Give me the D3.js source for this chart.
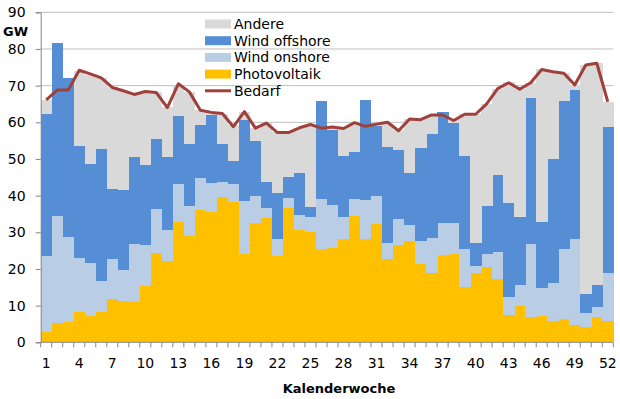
<!DOCTYPE html>
<html>
<head>
<meta charset="utf-8">
<script src="https://cdn.jsdelivr.net/npm/d3@7"></script>
<style>
  body { margin: 0; background: #fff; }
  svg { display: block; font-family: "DejaVu Sans", Verdana, sans-serif; }
</style>
</head>
<body>
<div id="chart"></div>
<script>
// Weekly values in GW
const weeks = d3.range(1, 53);
const photovoltaik = [2.9, 5.4, 5.6, 8.2, 7.3, 8.2, 11.9, 11.4, 10.9, 15.4, 24.4, 22.3, 32.9, 29.1, 36.1, 35.6, 39.6, 38.2, 24.0, 32.5, 34.0, 23.5, 36.6, 30.6, 30.2, 25.5, 25.7, 28.1, 34.5, 28.1, 32.3, 22.6, 26.5, 27.7, 21.4, 19.0, 23.8, 24.1, 15.2, 19.0, 20.5, 17.2, 7.4, 10.0, 7.0, 7.2, 5.9, 6.3, 4.7, 4.1, 7.0, 5.9];
const windOnshore = [20.6, 29.1, 23.1, 14.9, 14.4, 8.6, 10.9, 8.4, 15.8, 11.1, 12.0, 8.2, 10.3, 8.2, 8.6, 7.8, 4.2, 4.9, 14.6, 7.4, 2.6, 4.7, 2.7, 4.1, 4.1, 13.6, 11.8, 6.2, 4.6, 10.7, 7.6, 4.6, 7.1, 4.3, 6.3, 9.4, 8.7, 8.4, 10.2, 1.8, 3.5, 7.5, 5.0, 5.6, 19.8, 7.5, 10.2, 19.1, 23.6, 3.8, 2.5, 13.1];
const windOffshore = [38.8, 47.2, 43.5, 30.4, 26.8, 35.9, 19.0, 21.8, 23.9, 21.9, 19.0, 20.1, 18.5, 16.9, 14.6, 18.6, 10.2, 6.4, 22.1, 15.0, 7.1, 12.6, 5.9, 11.5, 2.6, 26.7, 20.4, 16.6, 12.9, 27.3, 19.1, 26.2, 18.9, 14.2, 25.4, 28.4, 30.2, 27.2, 25.5, 6.4, 13.2, 20.9, 25.7, 18.7, 39.9, 18.0, 33.9, 40.5, 40.5, 5.3, 6.1, 39.8];
const andere = [3.8, 0, 0, 20.5, 24.4, 19.3, 27.7, 26.9, 17.2, 19.9, 12.8, 13.6, 8.1, 14.1, 4.0, 0.8, 8.4, 9.7, 2.2, 3.6, 16.0, 16.5, 12.1, 12.3, 22.5, 0, 0.8, 7.7, 8.0, 0, 0.7, 6.7, 5.3, 14.8, 7.7, 5.3, 0, 1.3, 11.4, 35.1, 27.8, 23.6, 32.8, 34.9, 4.1, 41.8, 23.9, 7.6, 1.5, 62.5, 60.6, 6.8];
const bedarf = [66.1, 68.8, 68.8, 74.2, 73.2, 72.1, 69.5, 68.6, 67.6, 68.4, 68.1, 64.0, 70.5, 68.3, 63.3, 62.7, 62.4, 58.8, 62.9, 58.4, 59.8, 57.2, 57.2, 58.5, 59.4, 58.4, 58.7, 58.3, 59.9, 58.9, 59.5, 60.0, 57.7, 60.9, 60.7, 62.0, 62.0, 60.5, 62.2, 62.2, 65.0, 69.2, 70.8, 69.0, 70.8, 74.4, 73.8, 73.4, 70.2, 75.6, 76.1, 65.6];
const yTicks = d3.range(0, 91, 10);
const xLabels = [1, 4, 7, 10, 13, 16, 19, 22, 25, 28, 31, 34, 37, 40, 43, 46, 49, 52];

const series = [
    { key: 'pv', name: 'Photovoltaik', color: '#FFC000', values: photovoltaik },
    { key: 'on', name: 'Wind onshore', color: '#B9CDE5', values: windOnshore },
    { key: 'off', name: 'Wind offshore', color: '#558ED5', values: windOffshore },
    { key: 'and', name: 'Andere', color: '#D9D9D9', values: andere }
];
const lineColor = '#A0403C';

const width = 620, height = 399;
const plotLeft = 40.7, plotRight = 613.3, plotTop = 12.3, plotBottom = 342.3;

const rows = weeks.map((w, i) => {
    const r = { week: w };
    series.forEach(s => { r[s.key] = s.values[i]; });
    return r;
});

const svg = d3.select('#chart').append('svg')
    .attr('width', width)
    .attr('height', height);

const x = d3.scaleBand().domain(weeks).range([plotLeft, plotRight]).padding(0);
const y = d3.scaleLinear().domain([0, 90]).range([plotBottom, plotTop]);

// Gridlines
svg.append('g')
    .selectAll('line')
    .data(yTicks.filter(d => d > 0))
    .join('line')
    .attr('x1', plotLeft).attr('x2', plotRight)
    .attr('y1', d => y(d)).attr('y2', d => y(d))
    .attr('stroke', '#BFBFBF')
    .attr('stroke-width', 1);

// Stacked bars
const stacked = d3.stack().keys(series.map(s => s.key))(rows);
svg.append('g')
    .selectAll('g')
    .data(stacked)
    .join('g')
    .attr('fill', (d, i) => series[i].color)
    .selectAll('rect')
    .data(d => d)
    .join('rect')
    .attr('x', d => x(d.data.week))
    .attr('width', x.bandwidth() + 0.4)
    .attr('y', d => y(d[1]))
    .attr('height', d => Math.max(0, y(d[0]) - y(d[1])))
    .attr('shape-rendering', 'crispEdges');

// Bedarf line
const line = d3.line()
    .x((d, i) => x(weeks[i]) + x.bandwidth() / 2)
    .y(d => y(d));
svg.append('path')
    .datum(bedarf)
    .attr('d', line)
    .attr('fill', 'none')
    .attr('stroke', lineColor)
    .attr('stroke-width', 3)
    .attr('stroke-linejoin', 'round');

// Y axis
const yAxis = svg.append('g')
    .attr('transform', `translate(${plotLeft},0)`)
    .call(d3.axisLeft(y).tickValues(yTicks).tickSize(5).tickPadding(10));
yAxis.select('.domain').attr('stroke', '#868686');
yAxis.selectAll('.tick line').attr('stroke', '#868686');
yAxis.selectAll('text')
    .attr('font-size', 14)
    .attr('font-family', '"DejaVu Sans", Verdana, sans-serif')
    .attr('fill', '#000');

// X axis: ticks on band boundaries
const xAxis = svg.append('g')
    .attr('transform', `translate(0,${plotBottom})`);
xAxis.append('line')
    .attr('x1', plotLeft).attr('x2', plotRight)
    .attr('stroke', '#868686');
xAxis.selectAll('line.tk')
    .data(weeks.concat([53]))
    .join('line')
    .attr('class', 'tk')
    .attr('x1', d => d <= 52 ? x(d) : plotRight)
    .attr('x2', d => d <= 52 ? x(d) : plotRight)
    .attr('y1', 0).attr('y2', 5)
    .attr('stroke', '#868686');
xAxis.selectAll('text')
    .data(xLabels)
    .join('text')
    .attr('x', d => x(d) + x.bandwidth() / 2)
    .attr('y', 26)
    .attr('text-anchor', 'middle')
    .attr('font-size', 14)
    .attr('fill', '#000')
    .text(d => d);

// Axis titles
svg.append('text')
    .attr('x', 3).attr('y', 36)
    .attr('font-size', 13)
    .attr('font-weight', 'bold')
    .attr('fill', '#000')
    .text('GW');
svg.append('text')
    .attr('x', 339).attr('y', 393)
    .attr('text-anchor', 'middle')
    .attr('font-size', 13)
    .attr('font-weight', 'bold')
    .attr('fill', '#000')
    .text('Kalenderwoche');

// Legend
const legendItems = [
    { name: 'Andere', color: '#D9D9D9', type: 'rect' },
    { name: 'Wind offshore', color: '#558ED5', type: 'rect' },
    { name: 'Wind onshore', color: '#B9CDE5', type: 'rect' },
    { name: 'Photovoltaik', color: '#FFC000', type: 'rect' },
    { name: 'Bedarf', color: lineColor, type: 'line' }
];
const legend = svg.append('g')
    .selectAll('g')
    .data(legendItems)
    .join('g')
    .attr('transform', (d, i) => `translate(205,${24 + i * 16.7})`);
legend.filter(d => d.type === 'rect')
    .append('rect')
    .attr('x', 0).attr('y', -4.5)
    .attr('width', 26).attr('height', 9)
    .attr('fill', d => d.color);
legend.filter(d => d.type === 'line')
    .append('line')
    .attr('x1', 0).attr('x2', 26)
    .attr('stroke', d => d.color)
    .attr('stroke-width', 3);
legend.append('text')
    .attr('x', 29).attr('y', 5)
    .attr('font-size', 14)
    .attr('fill', '#000')
    .text(d => d.name);
</script>
</body>
</html>
